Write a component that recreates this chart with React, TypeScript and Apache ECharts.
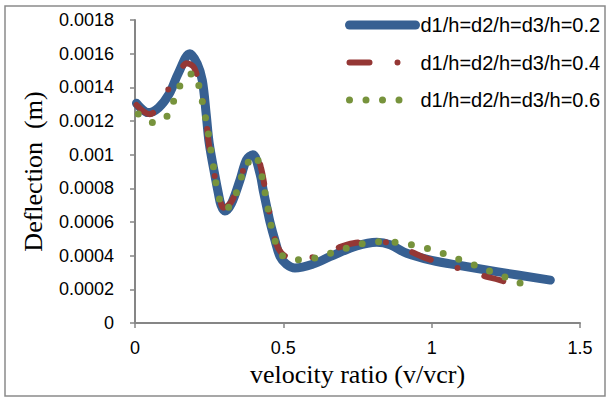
import React, { useEffect, useRef } from "react";
import * as echarts from "echarts";

// Series names
const seriesNames = ["d1/h=d2/h=d3/h=0.2", "d1/h=d2/h=d3/h=0.4", "d1/h=d2/h=d3/h=0.6"];

// Series 1 (d/h = 0.2)
const x1 = [0.005, 0.045, 0.08, 0.115, 0.146, 0.185, 0.21, 0.227, 0.24, 0.25, 0.27, 0.281, 0.29, 0.303, 0.325, 0.354, 0.376, 0.397, 0.421, 0.432, 0.444, 0.455, 0.472, 0.489, 0.51, 0.539, 0.6, 0.657, 0.747, 0.815, 0.86, 0.916, 1.0, 1.1, 1.219, 1.4];
const y1 = [0.001305, 0.00125, 0.00128, 0.00136, 0.001484, 0.0016, 0.00154, 0.00144, 0.00124, 0.00107, 0.00087, 0.00077, 0.0007, 0.000665, 0.00071, 0.00085, 0.00097, 0.001, 0.00089, 0.00079, 0.00069, 0.0006, 0.00049, 0.000395, 0.00035, 0.000327, 0.00035, 0.000394, 0.000458, 0.00048, 0.000465, 0.000414, 0.000372, 0.00034, 0.000305, 0.000255];

// Series 2 (d/h = 0.4)
const x2 = [0.005, 0.05, 0.08, 0.115, 0.15, 0.174, 0.2, 0.228, 0.24, 0.25, 0.27, 0.285, 0.298, 0.325, 0.355, 0.38, 0.41, 0.425, 0.44, 0.455, 0.466, 0.483, 0.51, 0.573, 0.663, 0.736, 0.826, 0.916, 0.983, 1.073, 1.163, 1.23, 1.323];
const y2 = [0.001295, 0.00124, 0.00129, 0.001395, 0.00149, 0.001543, 0.001515, 0.001325, 0.0012, 0.00105, 0.00086, 0.00075, 0.000685, 0.00072, 0.00086, 0.00096, 0.000979, 0.00092, 0.00078, 0.00064, 0.000533, 0.000444, 0.000395, 0.000384, 0.000434, 0.000474, 0.000483, 0.000434, 0.000384, 0.000335, 0.000285, 0.000255, 0.000205];

// Series 3 (d/h = 0.6)
const x3 = [0.011, 0.062, 0.109, 0.132, 0.157, 0.197, 0.219, 0.23, 0.242, 0.26, 0.28, 0.303, 0.33, 0.355, 0.38, 0.404, 0.42, 0.44, 0.46, 0.48, 0.5, 0.556, 0.616, 0.672, 0.728, 0.786, 0.845, 0.904, 0.961, 1.017, 1.073, 1.129, 1.185, 1.239, 1.294, 1.35];
const y3 = [0.001242, 0.00119, 0.00123, 0.001325, 0.001424, 0.001484, 0.001384, 0.001285, 0.00118, 0.00098, 0.00077, 0.000675, 0.00072, 0.00085, 0.00095, 0.000998, 0.00093, 0.00076, 0.00057, 0.00045, 0.000396, 0.000376, 0.00039, 0.000422, 0.000453, 0.000477, 0.000483, 0.000474, 0.000453, 0.000426, 0.00039, 0.000355, 0.000315, 0.000279, 0.00024, 0.000202];

// Axis settings
const xMin = 0, xMax = 1.5, xStep = 0.5;
const yMin = 0, yMax = 0.0018, yStep = 0.0002;

const colors = ["#376092", "#953735", "#77933C"];

const pairs = (xs: number[], ys: number[]) => xs.map((x, i) => [x, ys[i]]);

export default function App() {
  const ref = useRef<HTMLDivElement>(null);
  useEffect(() => {
    if (!ref.current) return;
    const chart = echarts.init(ref.current, null, { renderer: "svg" });
    const axisColor = "#868686";
    const lineStyles: any[] = [
      { color: colors[0], width: 9, type: "solid", cap: "round", join: "round" },
      { color: colors[1], width: 6, type: [20, 28, 0, 28], cap: "round", join: "round" },
      { color: colors[2], width: 7, type: [0, 16.5], cap: "round", join: "round" },
    ];
    chart.setOption({
      animation: false,
      backgroundColor: "#fff",
      grid: { left: 135, right: 30, top: 20, bottom: 76, containLabel: false, outerBoundsMode: "none" },
      graphic: [
        {
          type: "rect",
          shape: { x: 5, y: 6, width: 600, height: 390 },
          style: { fill: "none", stroke: "#8a8a8a", lineWidth: 1.5 },
          silent: true,
        },
      ],
      legend: {
        orient: "vertical",
        left: 345,
        top: 15,
        padding: 0,
        itemWidth: 66,
        itemHeight: 20,
        itemGap: 17.5,
        textStyle: { fontFamily: "Liberation Sans", fontSize: 20, color: "#000", lineHeight: 20 },
        data: seriesNames.map((n, i) => ({
          name: n,
          lineStyle: lineStyles[i],
          itemStyle: { color: "rgba(0,0,0,0)", opacity: 0, borderWidth: 0 },
        })),
      },
      xAxis: {
        type: "value",
        min: xMin,
        max: xMax,
        interval: xStep,
        name: "velocity ratio (v/vcr)",
        nameLocation: "middle",
        nameGap: 33,
        nameTextStyle: { fontFamily: "Liberation Serif", fontSize: 26, color: "#000" },
        axisLine: { show: true, lineStyle: { color: axisColor, width: 2 } },
        axisTick: { show: true, length: 5, lineStyle: { color: axisColor, width: 1.5 } },
        splitLine: { show: false },
        axisLabel: { fontFamily: "Liberation Sans", fontSize: 18, color: "#000", margin: 16 },
      },
      yAxis: {
        type: "value",
        min: yMin,
        max: yMax,
        interval: yStep,
        name: "Deflection  (m)",
        nameLocation: "middle",
        nameGap: 89,
        nameTextStyle: { fontFamily: "Liberation Serif", fontSize: 26, color: "#000" },
        axisLine: { show: true, lineStyle: { color: axisColor, width: 2 } },
        axisTick: { show: true, length: 5, lineStyle: { color: axisColor, width: 1.5 } },
        splitLine: { show: false },
        axisLabel: {
          fontFamily: "Liberation Sans",
          fontSize: 18,
          color: "#000",
          margin: 21,
          formatter: (v: number) => String(+v.toFixed(4)),
        },
      },
      series: [
        { type: "line", name: seriesNames[0], data: pairs(x1, y1), symbol: "none", smooth: 0.35, lineStyle: lineStyles[0], itemStyle: { color: colors[0] }, z: 2 },
        { type: "line", name: seriesNames[1], data: pairs(x2, y2), symbol: "none", smooth: 0.35, lineStyle: lineStyles[1], itemStyle: { color: colors[1] }, z: 3 },
        { type: "line", name: seriesNames[2], data: pairs(x3, y3), symbol: "none", smooth: 0.35, lineStyle: lineStyles[2], itemStyle: { color: colors[2] }, z: 4 },
      ],
    });
    return () => chart.dispose();
  }, []);
  return <div ref={ref} style={{ position: "fixed", left: 0, top: 0, width: 610, height: 399 }} />;
}
